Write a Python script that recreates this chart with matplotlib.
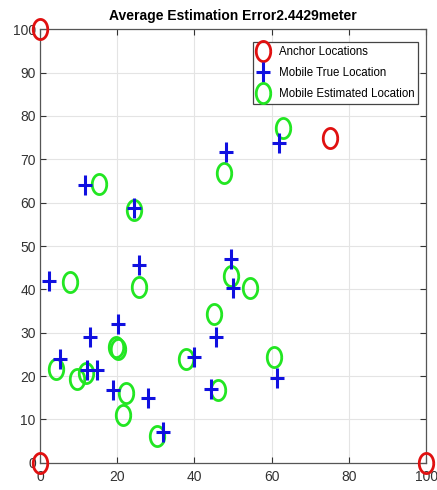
import numpy as np
import matplotlib
matplotlib.use("Agg")
import matplotlib.pyplot as plt
from matplotlib.path import Path

plt.rcParams['font.family'] = ['Liberation Sans', 'DejaVu Sans']

# anchor nodes
anchor_x = [0, 0, 100, 75]
anchor_y = [100, 0, 0, 75]

# true mobile positions
true_x = [61.9, 48.1, 11.7, 24.3, 25.7, 2.4, 49.4, 50.1, 45.5, 20.3,
          13.0, 5.2, 12.3, 14.7, 19.0, 28.0, 31.8, 39.8, 44.3, 61.5]
true_y = [73.7, 71.8, 64.0, 58.7, 45.6, 42.0, 47.0, 40.4, 28.9, 31.9,
          28.9, 23.9, 21.3, 21.5, 16.8, 14.9, 7.2, 24.3, 16.9, 19.5]

# estimated mobile positions
est_x = [63.0, 47.6, 15.3, 24.3, 25.7, 7.8, 49.5, 54.5, 45.0, 20.1,
         19.8, 4.2, 9.7, 11.9, 22.3, 21.5, 30.3, 37.7, 46.1, 60.6]
est_y = [77.3, 66.8, 64.2, 58.3, 40.6, 41.6, 43.1, 40.2, 34.2, 26.2,
         26.7, 21.6, 19.2, 20.6, 16.0, 11.0, 6.2, 23.9, 16.8, 24.5]

avg_err = 2.4429

# markers come out taller than wide
t = np.linspace(0, 2 * np.pi, 60)
ellipse = Path(np.column_stack([0.36 * np.cos(t), 0.5 * np.sin(t)]))
plus = Path([(-0.36, 0), (0.36, 0), (0, -0.5), (0, 0.5)],
            [Path.MOVETO, Path.LINETO, Path.MOVETO, Path.LINETO])

fig = plt.figure(figsize=(4.37, 4.9), dpi=100)
ax = fig.add_axes([0.0915, 0.0557, 0.8835, 0.8845])

ax.plot(anchor_x, anchor_y, linestyle='none', marker=ellipse, markersize=14.5,
        markerfacecolor='none', markeredgecolor='#e01010', markeredgewidth=2,
        clip_on=False, zorder=5, label='Anchor Locations')
ax.plot(true_x, true_y, linestyle='none', marker=plus, markersize=14.5,
        markeredgecolor='#1010e0', markeredgewidth=2.2,
        clip_on=False, zorder=4, label='Mobile True Location')
ax.plot(est_x, est_y, linestyle='none', marker=ellipse, markersize=14.5,
        markerfacecolor='none', markeredgecolor='#22e622', markeredgewidth=2,
        clip_on=False, zorder=3, label='Mobile Estimated Location')

ax.set_xlim(0, 100)
ax.set_ylim(0, 100)
ax.set_xticks(np.arange(0, 101, 20))
ax.set_yticks(np.arange(0, 101, 10))
ax.tick_params(direction='in', top=True, right=True, labelsize=10,
               colors='#333333', length=4, pad=5)
ax.tick_params(axis='y', pad=3)
for s in ax.spines.values():
    s.set_color('#555555')
    s.set_linewidth(0.9)
ax.grid(True, color='#e4e4e4', linewidth=0.8)
ax.set_axisbelow(True)

ax.set_title('Average Estimation Error' + str(avg_err) + 'meter',
             fontsize=10, fontweight='bold', pad=7)

leg = ax.legend(loc='upper right', bbox_to_anchor=(0.98, 0.97), fontsize=8.3,
                fancybox=False, edgecolor='#444444', framealpha=1,
                handlelength=1.0, handletextpad=0.9, borderpad=0.35,
                labelspacing=0.75, borderaxespad=0)
leg.get_frame().set_linewidth(0.9)

fig.savefig('out.png', dpi=100)
